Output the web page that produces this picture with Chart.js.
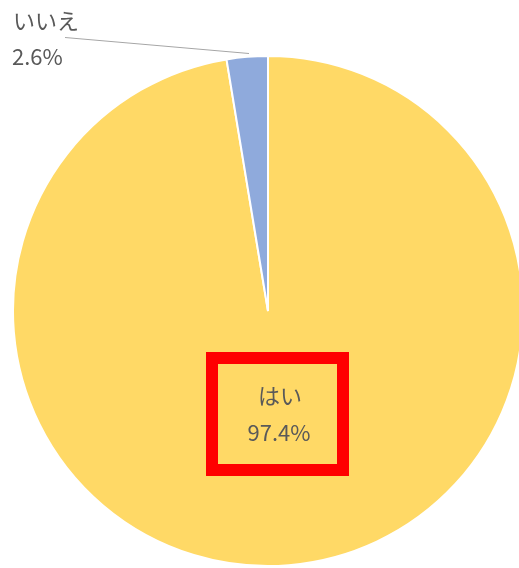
<!DOCTYPE html>
<html>
<head>
<meta charset="utf-8">
<script src="https://cdn.jsdelivr.net/npm/chart.js@4.4.1/dist/chart.umd.min.js"></script>
<style>
  html, body { margin: 0; padding: 0; background: #ffffff; }
  #wrap { position: relative; width: 519px; height: 568px; }
</style>
</head>
<body>
<div id="wrap"><canvas id="pieChart" width="519" height="568"></canvas></div>
<script>
const labels = ['はい', 'いいえ'];
const shares = [97.4, 2.6];
const sliceColors = ['#FFD966', '#8FAADC'];

const textFont = "22px 'Noto Sans CJK JP', 'Noto Sans', sans-serif";
const textColor = '#595959';

// labels in the style of the spreadsheet: one inside, one outside with a leader line
const pieLabels = {
  id: 'pieLabels',
  afterDraw(chart) {
    const ctx = chart.ctx;
    const arcs = chart.getDatasetMeta(0).data;
    const cx = arcs[0].x, cy = arcs[0].y;
    ctx.save();
    ctx.font = textFont;
    ctx.fillStyle = textColor;
    ctx.textBaseline = 'middle';

    // big slice, label inside
    ctx.textAlign = 'center';
    ctx.fillText(labels[0], cx + 12, cy + 85);
    ctx.fillText(shares[0].toFixed(1) + '%', cx + 11, cy + 122);

    // highlight box around it
    ctx.strokeStyle = '#FF0000';
    ctx.lineWidth = 12;
    ctx.strokeRect(cx - 56, cy + 47, 131, 112);

    // small slice, label outside top-left
    ctx.textAlign = 'left';
    ctx.fillText(labels[1], 13, 21);
    ctx.fillText(shares[1].toFixed(1) + '%', 12, 57);

    ctx.strokeStyle = '#A6A6A6';
    ctx.lineWidth = 1;
    ctx.beginPath();
    ctx.moveTo(65, 37.5);
    ctx.lineTo(249, 53.5);
    ctx.stroke();
    ctx.restore();
  }
};

new Chart(document.getElementById('pieChart'), {
  type: 'pie',
  data: {
    labels: labels,
    datasets: [{
      data: shares,
      backgroundColor: sliceColors,
      borderColor: '#ffffff',
      borderWidth: 2
    }]
  },
  options: {
    responsive: false,
    animation: false,
    radius: 255,
    layout: { padding: { left: 17, right: 0, top: 54, bottom: 0 } },
    plugins: {
      legend: { display: false },
      tooltip: { enabled: false }
    }
  },
  plugins: [pieLabels]
});
</script>
</body>
</html>
